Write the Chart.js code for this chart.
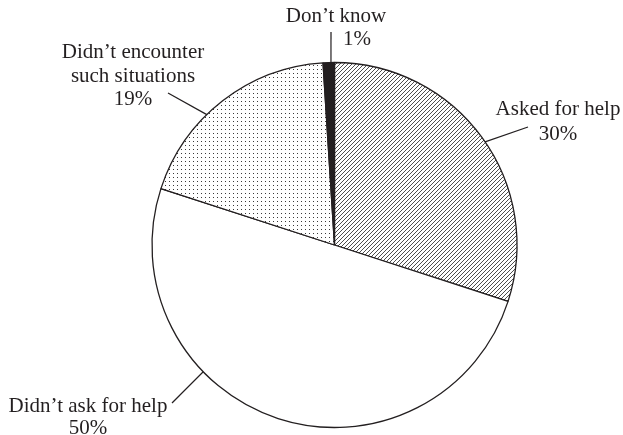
<!DOCTYPE html>
<html>
<head>
<meta charset="utf-8">
<script src="https://cdn.jsdelivr.net/npm/chart.js@4.4.1/dist/chart.umd.min.js"></script>
<style>
  html, body { margin: 0; padding: 0; background: #fff; }
  #wrap { width: 623px; height: 435px; position: relative; }
</style>
</head>
<body>
<div id="wrap"><canvas id="pieChart" width="623" height="435"></canvas></div>
<script>
// Data
const categories = ['Asked for help', 'Didn\u2019t ask for help', 'Didn\u2019t encounter such situations', 'Don\u2019t know'];
const shares = [30, 50, 19, 1];
const labelLines = [
    ['Asked for help', '30%'],
    ['Didn\u2019t ask for help', '50%'],
    ['Didn\u2019t encounter', 'such situations', '19%'],
    ['Don\u2019t know', '1%']
];

// where each label sits, relative to the pie centre
const labelLayout = [
    { anchor: 55.6, end: [193.5, -118], text: [[223.5, -130], [223.5, -105]] },
    { anchor: 226, end: [-162.5, 158], text: [[-246.5, 167], [-246.5, 189]] },
    { anchor: 315.6, end: [-166.5, -152], text: [[-201.5, -187], [-201.5, -163], [-201.5, -140]] },
    { anchor: 358.9, end: [-3.5, -213], text: [[1.5, -223], [22.5, -200]] }
];

function hatchPattern() {
    const c = document.createElement('canvas');
    c.width = 4; c.height = 4;
    const g = c.getContext('2d');
    g.fillStyle = '#fff';
    g.fillRect(0, 0, 4, 4);
    g.strokeStyle = '#3a3a3a';
    g.lineWidth = 0.9;
    g.beginPath();
    g.moveTo(-1, 5); g.lineTo(5, -1);
    g.moveTo(-1, 1); g.lineTo(1, -1);
    g.moveTo(3, 5); g.lineTo(5, 3);
    g.stroke();
    return g.createPattern(c, 'repeat');
}

function dotPattern() {
    const c = document.createElement('canvas');
    c.width = 4; c.height = 4;
    const g = c.getContext('2d');
    g.fillStyle = '#fff';
    g.fillRect(0, 0, 4, 4);
    g.fillStyle = '#3a3a3a';
    g.fillRect(1, 1, 1, 1);
    return g.createPattern(c, 'repeat');
}

const ctx = document.getElementById('pieChart').getContext('2d');

const calloutPlugin = {
    id: 'callouts',
    afterDatasetsDraw(chart) {
        const c = chart.ctx;
        const arcs = chart.getDatasetMeta(0).data;
        c.save();
        c.font = '21px "Liberation Serif", "Times New Roman", serif';
        c.fillStyle = '#231f20';
        c.strokeStyle = '#231f20';
        c.lineWidth = 1.2;
        c.textAlign = 'center';
        c.textBaseline = 'alphabetic';
        arcs.forEach((arc, i) => {
            const lay = labelLayout[i];
            const cx = arc.x, cy = arc.y, r = arc.outerRadius;
            const a = lay.anchor * Math.PI / 180;
            c.beginPath();
            c.moveTo(cx + r * Math.sin(a), cy - r * Math.cos(a));
            c.lineTo(cx + lay.end[0], cy + lay.end[1]);
            c.stroke();
            labelLines[i].forEach((t, j) => {
                c.fillText(t, cx + lay.text[j][0], cy + lay.text[j][1]);
            });
        });
        c.restore();
    }
};

new Chart(ctx, {
    type: 'pie',
    data: {
        labels: categories,
        datasets: [{
            data: shares,
            backgroundColor: [hatchPattern(), '#ffffff', dotPattern(), '#231f20'],
            borderColor: '#231f20',
            borderWidth: 1.3
        }]
    },
    options: {
        responsive: false,
        animation: false,
        events: [],
        radius: 182.5,
        layout: { padding: { top: 62, bottom: 7, left: 46, right: 0 } },
        plugins: {
            legend: { display: false },
            tooltip: { enabled: false }
        }
    },
    plugins: [calloutPlugin]
});
</script>
</body>
</html>
